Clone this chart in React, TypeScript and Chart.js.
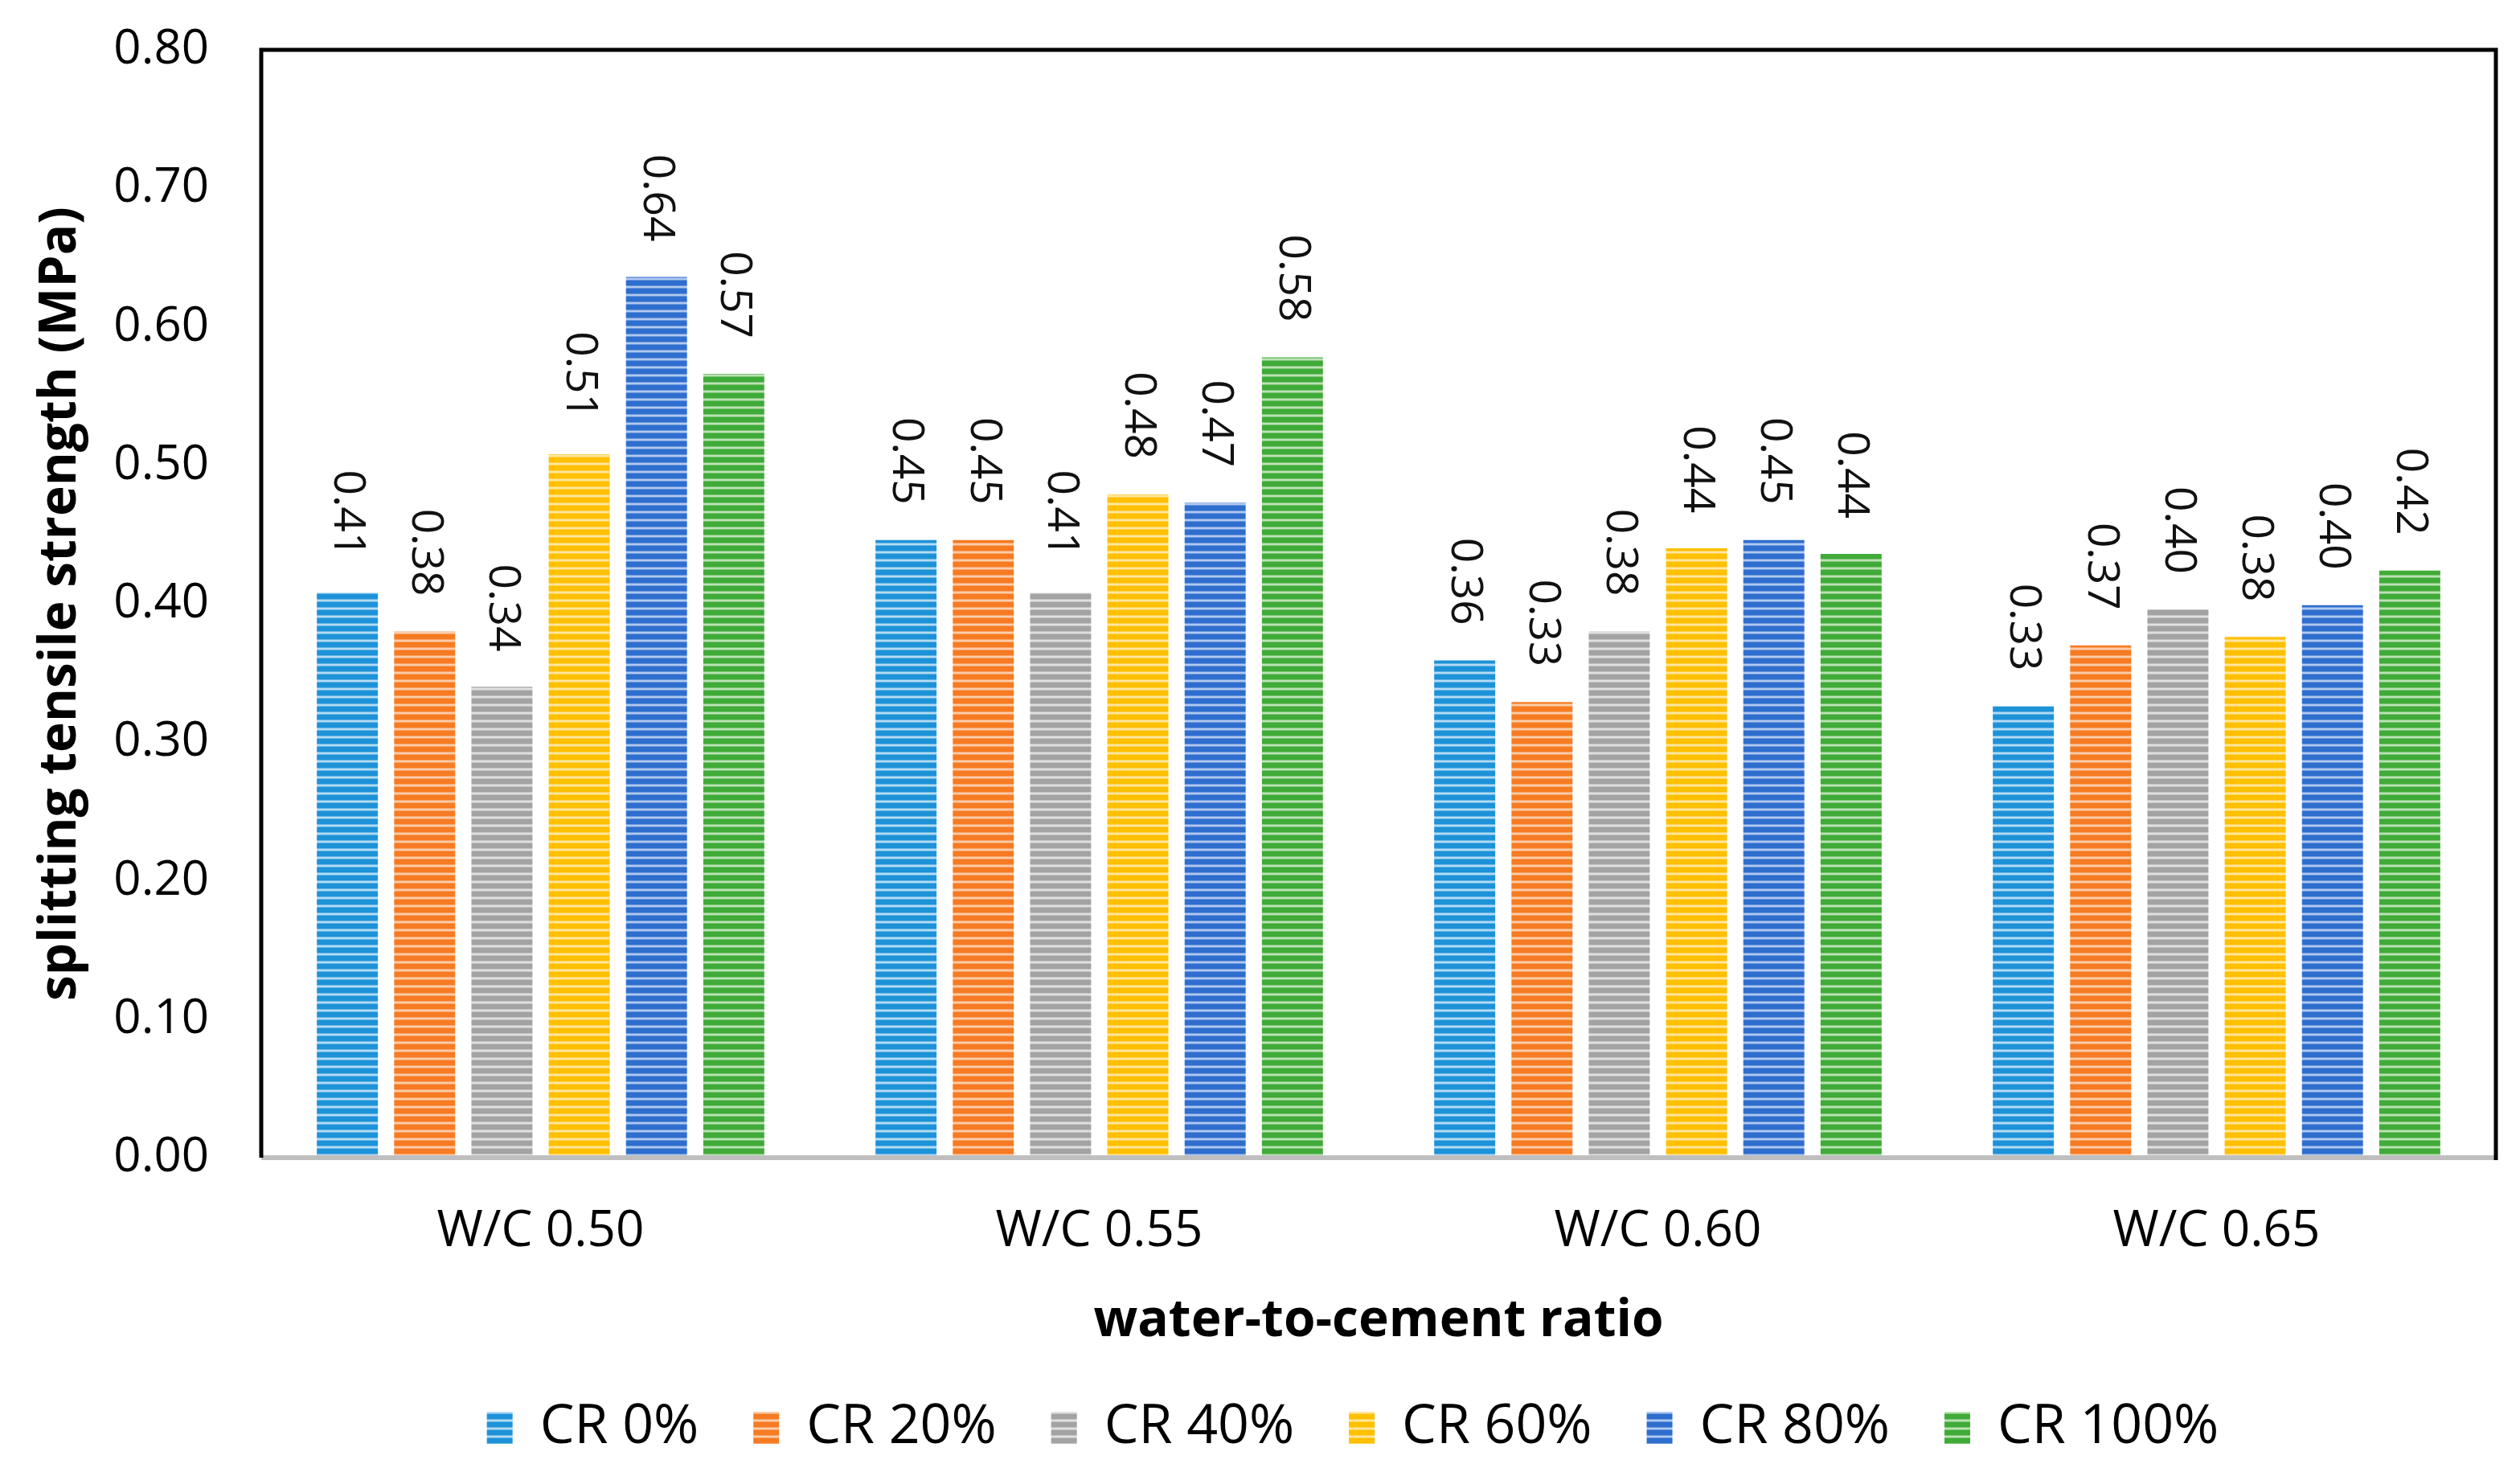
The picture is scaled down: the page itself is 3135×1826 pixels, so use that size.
import React, { useEffect, useRef } from "react";
import { Chart, registerables } from "chart.js";

Chart.register(...registerables);

const categories = ["W/C 0.50", "W/C 0.55", "W/C 0.60", "W/C 0.65"];
const seriesNames = ["CR 0%", "CR 20%", "CR 40%", "CR 60%", "CR 80%", "CR 100%"];
const cr0 = [0.408, 0.446, 0.359, 0.326];
const cr20 = [0.38, 0.446, 0.329, 0.37];
const cr40 = [0.34, 0.408, 0.38, 0.396];
const cr60 = [0.508, 0.479, 0.44, 0.376];
const cr80 = [0.636, 0.473, 0.446, 0.399];
const cr100 = [0.566, 0.578, 0.436, 0.424];
const seriesValues = [cr0, cr20, cr40, cr60, cr80, cr100];
const baseColors = ["#1E92D8", "#F67B22", "#A3A3A3", "#FFC000", "#2E6ECE", "#40AB38"];
const midColors = ["#66B6E6", "#F9A264", "#C2C2C2", "#FFD24D", "#6C98DD", "#7CC575"];
const lightColors = ["#B4DBF3", "#FCCDAA", "#E0E0E0", "#FFE7A0", "#B0C8F0", "#BCE2B6"];

const yTitle = "splitting tensile strength (MPa)";
const xTitle = "water-to-cement ratio";

const TICK_FONT = "'Open Sans', 'DejaVu Sans', sans-serif";
const TITLE_FONT = "'Open Sans', 'DejaVu Sans', sans-serif";

function makePattern(ctx: CanvasRenderingContext2D, base: string, mid: string, light: string) {
  const c = document.createElement("canvas");
  c.width = 4;
  c.height = 10;
  const g = c.getContext("2d")!;
  g.fillStyle = base;
  g.fillRect(0, 0, 4, 10);
  g.fillStyle = mid;
  g.fillRect(0, 5, 4, 1);
  g.fillRect(0, 8, 4, 1);
  g.fillStyle = light;
  g.fillRect(0, 6, 4, 2);
  return ctx.createPattern(c, "repeat")!;
}

const framePlugin = {
  id: "frame",
  afterLayout(chart: any) {
    const l = chart.legend;
    if (l) {
      l.left -= 32;
      l.right -= 32;
    }
  },
  afterDatasetsDraw(chart: any) {
    const { ctx, chartArea: a } = chart;
    ctx.save();
    ctx.strokeStyle = "#BFBFBF";
    ctx.lineWidth = 6;
    ctx.beginPath();
    ctx.moveTo(a.left, a.bottom);
    ctx.lineTo(a.right, a.bottom);
    ctx.stroke();
    ctx.strokeStyle = "#000000";
    ctx.lineWidth = 5;
    ctx.beginPath();
    ctx.moveTo(a.left, a.bottom);
    ctx.lineTo(a.left, a.top);
    ctx.lineTo(a.right, a.top);
    ctx.lineTo(a.right, a.bottom + 3);
    ctx.stroke();
    ctx.restore();
  },
};

const labelPlugin = {
  id: "barLabels",
  afterDatasetsDraw(chart: any) {
    const { ctx } = chart;
    ctx.save();
    ctx.font = `55px ${TICK_FONT}`;
    ctx.fillStyle = "#111111";
    ctx.textAlign = "right";
    ctx.textBaseline = "middle";
    chart.data.datasets.forEach((ds: any, i: number) => {
      const meta = chart.getDatasetMeta(i);
      meta.data.forEach((bar: any, j: number) => {
        const v = ds.data[j] as number;
        ctx.save();
        ctx.translate(bar.x, bar.y - 44);
        ctx.rotate(Math.PI / 2);
        ctx.fillText(v.toFixed(2), 0, 0);
        ctx.restore();
      });
    });
    ctx.restore();
  },
};

export default function App() {
  const ref = useRef<HTMLCanvasElement | null>(null);

  useEffect(() => {
    document.body.style.margin = "0";
    const canvas = ref.current!;
    const ctx = canvas.getContext("2d")!;
    const datasets = seriesNames.map((name, i) => ({
      label: name,
      data: seriesValues[i],
      backgroundColor: makePattern(ctx, baseColors[i], midColors[i], lightColors[i]),
      borderWidth: 0,
      categoryPercentage: 0.83,
      barPercentage: 0.79,
    }));
    const chart = new Chart(ctx, {
      type: "bar",
      data: { labels: categories, datasets },
      plugins: [framePlugin, labelPlugin],
      options: {
        animation: false,
        responsive: false,
        devicePixelRatio: 1,
        layout: { padding: { top: 62, right: 30, left: 0, bottom: 6 } },
        plugins: {
          tooltip: { enabled: false },
          legend: {
            position: "bottom",
            fullSize: false,
            labels: {
              boxWidth: 32,
              boxHeight: 40,
              padding: 68,
              color: "#000000",
              font: { family: TICK_FONT, size: 68 },
            },
          },
        },
        scales: {
          x: {
            grid: { display: false, drawTicks: false },
            border: { display: false },
            ticks: {
              color: "#000000",
              padding: 55,
              font: { family: TICK_FONT, size: 62 },
            },
            title: {
              display: true,
              text: xTitle,
              color: "#000000",
              font: { family: TITLE_FONT, size: 64, weight: "bold", lineHeight: 1 },
              padding: { top: 0, bottom: -2 },
            },
            afterFit(scale: any) {
              scale.height = 234;
              scale.paddingLeft = 0;
              scale.paddingRight = 0;
            },
          },
          y: {
            min: 0,
            max: 0.8,
            grid: { display: false, drawTicks: false },
            border: { display: false },
            ticks: {
              stepSize: 0.1,
              color: "#000000",
              padding: 65,
              font: { family: TICK_FONT, size: 60 },
              callback: (v: any) => Number(v).toFixed(2),
            },
            title: {
              display: true,
              text: yTitle,
              color: "#000000",
              font: { family: TITLE_FONT, size: 64, weight: "bold", lineHeight: 1 },
              padding: { top: 44, bottom: 0 },
            },
            afterFit(scale: any) {
              scale.width = 325;
              scale.paddingTop = 0;
              scale.paddingBottom = 0;
            },
          },
        },
      },
    } as any);
    return () => chart.destroy();
  }, []);

  return (
    <div style={{ width: 3135, height: 1826, background: "#ffffff" }}>
      <canvas ref={ref} width={3135} height={1826} style={{ display: "block" }} />
    </div>
  );
}
